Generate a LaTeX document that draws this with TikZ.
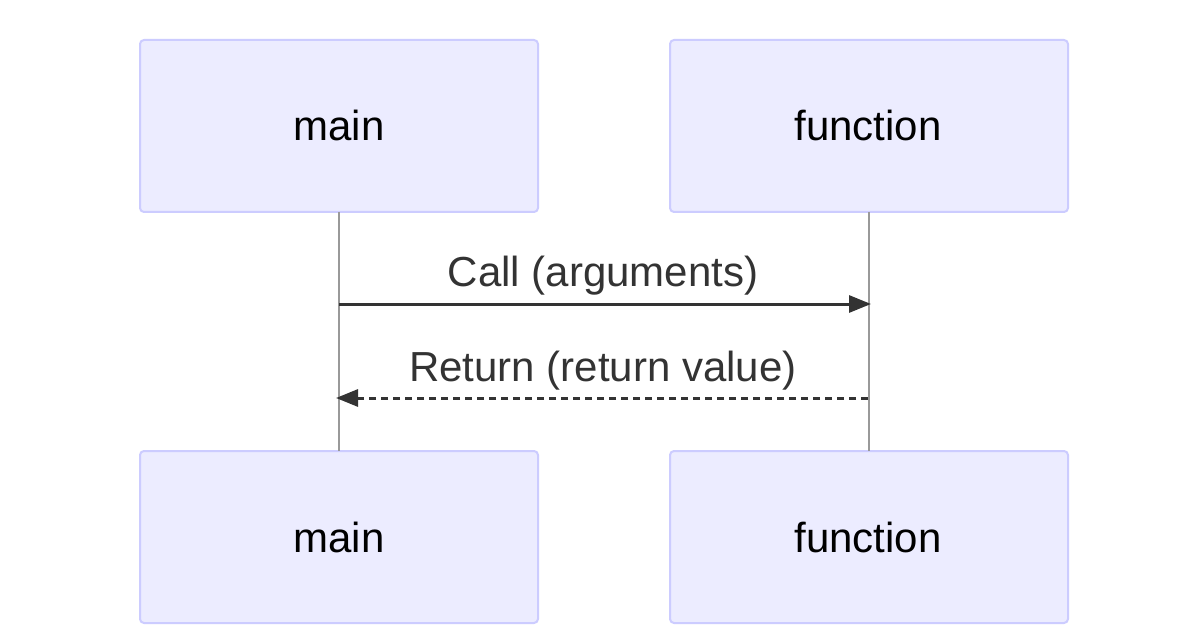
\documentclass[tikz,border=0pt]{standalone}
\usepackage{fontspec}
\setmainfont{Liberation Sans}
\usetikzlibrary{arrows.meta}
\definecolor{actfill}{HTML}{ECECFF}
\definecolor{actline}{HTML}{CCCCFF}
\definecolor{msgcol}{HTML}{333333}
\definecolor{lifecol}{HTML}{999999}
\begin{document}
\begin{tikzpicture}[x=1pt,y=-1pt,
  actor/.style={draw=actline, fill=actfill, line width=2pt, rounded corners=4pt,
    minimum width=398pt, minimum height=172pt, inner sep=0pt, outer sep=0pt},
  actlabel/.style={font=\fontsize{42}{50}\selectfont, text=black, anchor=base, inner sep=0pt},
  msglabel/.style={font=\fontsize{42}{50}\selectfont, text=msgcol, anchor=base, inner sep=0pt},
  lifeline/.style={draw=lifecol, line width=1.5pt},
  msg/.style={draw=msgcol, line width=3pt, -{Triangle[length=22pt,width=17pt]}},
  ret/.style={msg, dash pattern=on 7pt off 5pt}]
\useasboundingbox[fill=white] (0,0) rectangle (1200,639);
\node[actor] (mt) at (339,126) {};
\node[actor] (ft) at (869,126) {};
\node[actor] (mb) at (339,537) {};
\node[actor] (fb) at (869,537) {};
\node[actlabel] (mtl) at (339,141) {main};
\node[actlabel] (ftl) at (868,141) {function};
\node[actlabel] (mbl) at (339,552) {main};
\node[actlabel] (fbl) at (868,552) {function};
\draw[lifeline] (mt.south) -- (mb.north);
\draw[lifeline] (ft.south) -- (fb.north);
\coordinate (c1) at (339,304);
\coordinate (c2) at (871,304);
\coordinate (r1) at (868,398);
\coordinate (r2) at (336,398);
\draw[msg] (c1) -- (c2);
\draw[ret] (r1) -- (r2);
\node[msglabel] (cl) at (603,287) {Call (arguments)};
\node[msglabel] (rl) at (603,381) {Return (return value)};
\end{tikzpicture}
\end{document}
